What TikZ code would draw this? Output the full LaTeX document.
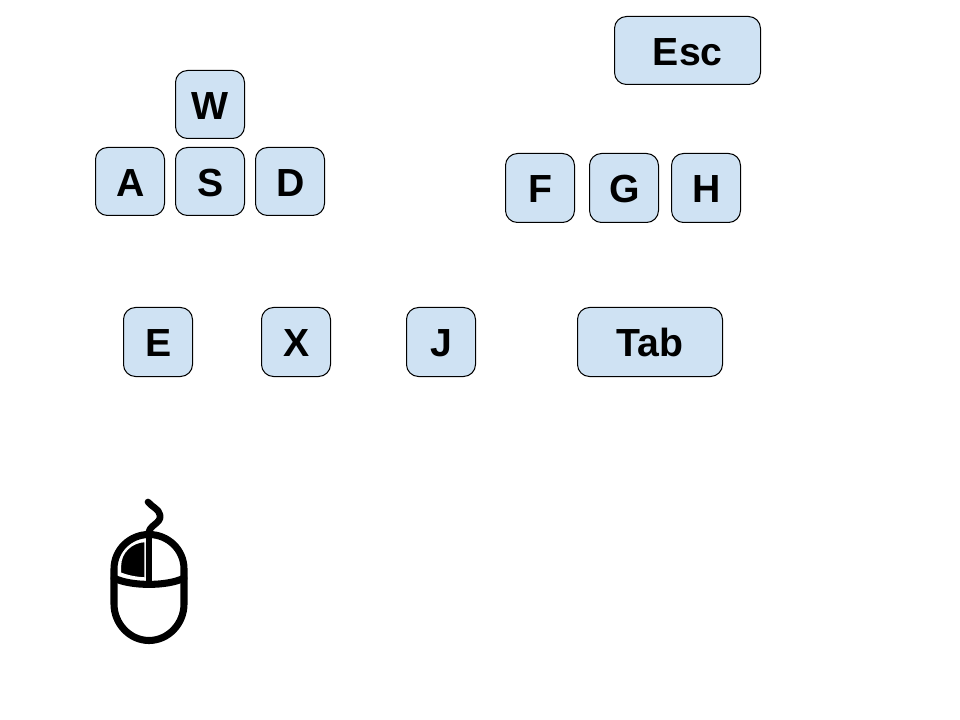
\documentclass[tikz,border=0pt]{standalone}
\usepackage{fontspec}
\setmainfont{Liberation Sans}
\definecolor{keyfill}{HTML}{CFE2F3}
\tikzset{
  keybox/.style={draw=black,fill=keyfill,line width=0.75pt,rounded corners=9pt,inner sep=0pt,
    font=\fontsize{29.4pt}{32pt}\selectfont\bfseries,text=black,text height=21.8pt,text depth=0pt},
  mouseline/.style={draw=black,line width=5.3pt,line cap=round,line join=round}
}
\begin{document}
\begin{tikzpicture}[x=0.75pt,y=-0.75pt]
\useasboundingbox (0,0) rectangle (960,720);
\foreach \n/\xa/\ya/\xb/\yb/\t in {
  esc/614.5/16.5/760.5/84.5/Esc,
  w/175.5/70.5/244.5/138.5/W,
  a/95.5/147.5/164.5/215.5/A,
  s/175.5/147.5/244.5/215.5/S,
  d/255.5/147.5/324.5/215.5/D,
  f/505.5/153.5/574.5/222.5/F,
  g/589.5/153.5/658.5/222.5/G,
  h/671.5/153.5/740.5/222.5/H,
  e/123.5/307.5/192.5/376.5/E,
  x/261.5/307.5/330.5/376.5/X,
  j/406.5/307.5/475.5/376.5/J,
  tab/577.5/307.5/722.5/376.5/Tab}{
  \pgfmathsetmacro{\wid}{(\xb-\xa)*0.75}
  \pgfmathsetmacro{\hei}{(\yb-\ya)*0.75}
  \pgfmathsetmacro{\cx}{(\xa+\xb)/2}
  \pgfmathsetmacro{\cy}{(\ya+\yb)/2}
  \node[keybox,minimum width=\wid pt,minimum height=\hei pt] (\n) at (\cx,\cy) {\hspace{0.4pt}\t};
}
% mouse
\draw[mouseline] (114,569) .. controls (114,549.5) and (130,534.5) .. (149,534.5)
  .. controls (168,534.5) and (184,549.5) .. (184,569) -- (184,604)
  .. controls (184,624) and (168,640.5) .. (149,640.5)
  .. controls (130,640.5) and (114,624) .. (114,604) -- cycle;
\draw[mouseline] (114,578) .. controls (130,586.5) and (168,586.5) .. (184,578);
\draw[mouseline,line width=5pt] (149,535) -- (149,583);
\draw[mouseline,line width=5pt] (149,535) .. controls (147,525) and (162,524) .. (160,515)
  .. controls (159,509) and (152,507) .. (148,502);
\draw[fill=black,draw=white,line width=1pt] (120.5,573) .. controls (128,576) and (136,577.5) .. (145,578)
  -- (145,541.5) .. controls (132,542) and (120.5,552) .. (120.5,566) -- cycle;
\end{tikzpicture}
\end{document}
